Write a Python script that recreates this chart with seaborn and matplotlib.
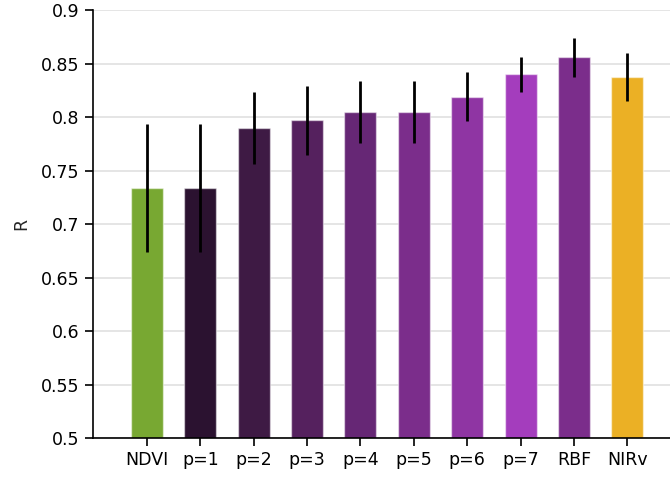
import matplotlib
matplotlib.use("Agg")
import matplotlib.pyplot as plt
import seaborn as sns
import pandas as pd

categories = ["NDVI", "p=1", "p=2", "p=3", "p=4", "p=5", "p=6", "p=7", "RBF", "NIRv"]
r_values = [0.734, 0.734, 0.790, 0.797, 0.805, 0.805, 0.819, 0.840, 0.856, 0.838]
r_errors = [0.060, 0.060, 0.034, 0.032, 0.029, 0.029, 0.023, 0.016, 0.018, 0.0225]
colors = ["#78a832", "#2b1230", "#3e1a44", "#55215e", "#662775",
          "#7b2d8b", "#8f35a3", "#a43dbd", "#7b2d8b", "#ebb025"]
y_ticks = [0.5, 0.55, 0.6, 0.65, 0.7, 0.75, 0.8, 0.85, 0.9]
y_tick_labels = ["0.5", "0.55", "0.6", "0.65", "0.7", "0.75", "0.8", "0.85", "0.9"]

df = pd.DataFrame({"model": categories, "R": r_values})

sns.set_style("white")
plt.rcParams["font.family"] = ["DejaVu Sans"]

fig = plt.figure(figsize=(6.7, 4.83), dpi=100)
ax = fig.add_axes([0.1388, 0.0932, 0.8612, 0.8855])

sns.barplot(data=df, x="model", y="R", hue="model", palette=colors,
            legend=False, width=0.6, ax=ax, zorder=2, saturation=1,
            edgecolor=(1, 1, 1, 0.5), linewidth=1)
ax.errorbar(range(len(categories)), r_values, yerr=r_errors, fmt="none",
            ecolor="black", elinewidth=2, capsize=0, zorder=3)

ax.set_ylim(0.5, 0.9)
ax.set_xlim(-1.01, 9.8)
ax.set_yticks(y_ticks)
ax.set_yticklabels(y_tick_labels)
ax.yaxis.grid(True, color="#e0e0e0", linewidth=1.2, zorder=0)
ax.set_axisbelow(True)
for s in ["top", "right"]:
    ax.spines[s].set_visible(False)
for s in ["left", "bottom"]:
    ax.spines[s].set_color("black")
    ax.spines[s].set_linewidth(1.2)
ax.tick_params(axis="both", direction="out", length=6, width=1.2,
               color="black", labelsize=12.5, labelcolor="black",
               bottom=True, left=True)
ax.set_xlabel("")
ax.set_ylabel("R", fontsize=12.5, labelpad=8)

fig.savefig("out.png", dpi=100)
